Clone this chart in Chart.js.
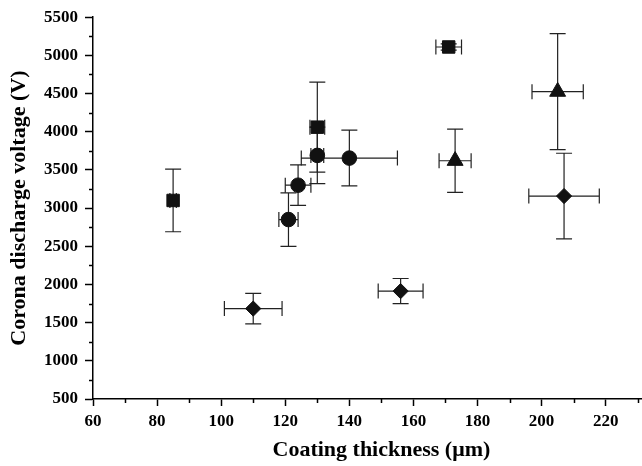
<!DOCTYPE html>
<html>
<head>
<meta charset="utf-8">
<script src="https://cdn.jsdelivr.net/npm/chart.js@4/dist/chart.umd.min.js"></script>
<style>
    html, body { margin: 0; padding: 0; background: #fff; overflow: hidden; }
    #wrap { width: 642px; height: 466px; overflow: hidden; }
    canvas { display: block; }
</style>
</head>
<body>
<div id="wrap"><canvas id="scatterChart" width="680" height="466"></canvas></div>
<script>
// square markers
const squareX = [85, 130, 171];
const squareY = [3100, 4060, 5110];
const squareXErr = [1, 2.3, 4];
const squareYErr = [410, 590, 40];

// circle markers
const circleX = [121, 124, 130, 140];
const circleY = [2850, 3300, 3690, 3655];
const circleXErr = [3, 4, 2, 15];
const circleYErr = [350, 265, 370, 365];

// triangle markers
const triangleX = [173, 205];
const triangleY = [3620, 4525];
const triangleXErr = [5, 8];
const triangleYErr = [415, 760];

// diamond markers
const diamondX = [110, 156, 207];
const diamondY = [1684, 1913, 3158];
const diamondXErr = [9, 7, 11];
const diamondYErr = [200, 165, 560];

const xTicksMinor = [70, 90, 110, 130, 150, 170, 190, 210, 230];
const yTicksMinor = [750, 1250, 1750, 2250, 2750, 3250, 3750, 4250, 4750, 5250];

const serif = '"Liberation Serif", "Times New Roman", serif';

function points(xs, ys, xe, ye) {
    return xs.map((x, i) => ({ x: x, y: ys[i], xErr: xe[i], yErr: ye[i] }));
}

const errorBars = {
    id: 'errorBars',
    beforeDatasetsDraw(chart) {
        const ctx = chart.ctx;
        const xs = chart.scales.x;
        const ys = chart.scales.y;
        const cap = 7.5;
        ctx.save();
        ctx.strokeStyle = '#222';
        ctx.lineWidth = 1.2;
        chart.data.datasets.forEach(ds => {
            ds.data.forEach(p => {
                const cx = xs.getPixelForValue(p.x);
                const cy = ys.getPixelForValue(p.y);
                const x0 = xs.getPixelForValue(p.x - p.xErr);
                const x1 = xs.getPixelForValue(p.x + p.xErr);
                const y0 = ys.getPixelForValue(p.y - p.yErr);
                const y1 = ys.getPixelForValue(p.y + p.yErr);
                ctx.beginPath();
                ctx.moveTo(x0, cy); ctx.lineTo(x1, cy);
                ctx.moveTo(cx, y0); ctx.lineTo(cx, y1);
                ctx.moveTo(x0, cy - cap); ctx.lineTo(x0, cy + cap);
                ctx.moveTo(x1, cy - cap); ctx.lineTo(x1, cy + cap);
                ctx.moveTo(cx - 8, y0); ctx.lineTo(cx + 8, y0);
                ctx.moveTo(cx - 8, y1); ctx.lineTo(cx + 8, y1);
                ctx.stroke();
            });
        });
        ctx.restore();
    },
    afterDraw(chart) {
        // minor ticks
        const ctx = chart.ctx;
        const area = chart.chartArea;
        ctx.save();
        ctx.strokeStyle = '#000';
        ctx.lineWidth = 1.5;
        ctx.beginPath();
        yTicksMinor.forEach(v => {
            const py = Math.round(chart.scales.y.getPixelForValue(v)) + 0.5;
            ctx.moveTo(area.left - 4, py); ctx.lineTo(area.left, py);
        });
        xTicksMinor.forEach(v => {
            const px = Math.round(chart.scales.x.getPixelForValue(v)) + 0.5;
            ctx.moveTo(px, area.bottom); ctx.lineTo(px, area.bottom + 4);
        });
        ctx.stroke();
        ctx.restore();
    }
};

const base = { backgroundColor: '#111', borderColor: '#111', borderWidth: 1 };

const config = {
    type: 'scatter',
    data: {
        datasets: [
            Object.assign({ label: 'square', data: points(squareX, squareY, squareXErr, squareYErr), pointStyle: 'rect', pointRadius: 8.8 }, base),
            Object.assign({ label: 'circle', data: points(circleX, circleY, circleXErr, circleYErr), pointStyle: 'circle', pointRadius: 7.3 }, base),
            Object.assign({ label: 'triangle', data: points(triangleX, triangleY, triangleXErr, triangleYErr), pointStyle: 'triangle', pointRadius: 9.2 }, base),
            Object.assign({ label: 'diamond', data: points(diamondX, diamondY, diamondXErr, diamondYErr), pointStyle: 'rectRot', pointRadius: 7.6 }, base)
        ]
    },
    options: {
        responsive: false,
        animation: false,
        layout: { padding: { top: 15, right: 3, left: 0, bottom: 0 } },
        plugins: { legend: { display: false }, tooltip: { enabled: false } },
        scales: {
            x: {
                type: 'linear',
                min: 60,
                max: 240,
                afterFit: scale => { scale.height = 67; },
                border: { color: '#000', width: 1.5 },
                grid: { drawOnChartArea: false, drawTicks: true, tickLength: 7, color: '#000', tickWidth: 1.5 },
                ticks: {
                    stepSize: 20,
                    autoSkip: false,
                    maxRotation: 0,
                    padding: 5,
                    color: '#000',
                    font: { family: serif, size: 17, weight: 'bold' },
                    callback: v => (v <= 220 ? String(v) : '')
                },
                title: {
                    display: true,
                    text: 'Coating thickness (\u03bcm)',
                    color: '#000',
                    padding: { top: 0, bottom: 2 },
                    font: { family: serif, size: 22, weight: 'bold' }
                }
            },
            y: {
                min: 500,
                max: 5500,
                afterFit: scale => { scale.width = 93; },
                border: { color: '#000', width: 1.5 },
                grid: { drawOnChartArea: false, drawTicks: true, tickLength: 8, color: '#000', tickWidth: 1.5 },
                ticks: {
                    stepSize: 500,
                    autoSkip: false,
                    padding: 7,
                    color: '#000',
                    font: { family: serif, size: 17, weight: 'bold' },
                    callback: v => String(v)
                },
                title: {
                    display: true,
                    text: 'Corona discharge voltage (V)',
                    color: '#000',
                    padding: { top: 6, bottom: 0 },
                    font: { family: serif, size: 22, weight: 'bold' }
                }
            }
        }
    },
    plugins: [errorBars]
};

new Chart(document.getElementById('scatterChart'), config);
</script>
</body>
</html>
